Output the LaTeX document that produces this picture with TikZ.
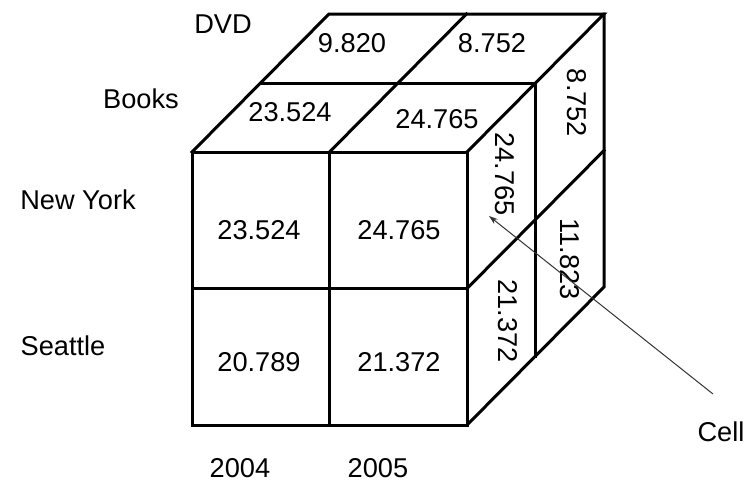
\documentclass[tikz,border=0pt]{standalone}
\usepackage{fontspec}
\setmainfont{Liberation Sans}
\usetikzlibrary{arrows.meta,calc}
\begin{document}
\begin{tikzpicture}[x=1pt,y=-1pt,
  edge/.style={line width=3pt,line cap=rect,line join=miter},
  lbl/.style={font=\fontsize{27.2}{31}\selectfont,inner sep=0pt},
  side/.style={lbl,rotate=-90},
  pointer/.style={draw=black!80,line width=1pt,-{Stealth[length=9pt,width=6pt]}}]
\useasboundingbox (0,0) rectangle (755,488);
% corners
\coordinate (FTL) at (192,152);
\coordinate (FTR) at (467,152);
\coordinate (FBL) at (192,425);
\coordinate (FBR) at (467,425);
\coordinate (d) at (137,-138);
\coordinate (h) at (68.5,-69);
% front face
\draw[edge] (FTL) rectangle (FBR);
\draw[edge] (329.5,152) -- (329.5,425);
\draw[edge] (192,288.5) -- (467,288.5);
% top face
\draw[edge] (FTL) -- ++(d) -- ($(FTR)+(d)$) -- (FTR);
\draw[edge] ($(FTL)+(h)$) -- ($(FTR)+(h)$);
\draw[edge] (329.5,152) -- ++(d);
% right face
\draw[edge] ($(FTR)+(d)$) -- ($(FBR)+(d)$) -- (FBR);
\draw[edge] ($(FTR)+(h)$) -- ($(FBR)+(h)$);
\draw[edge] (467,288.5) -- ++(d);
% top labels
\node[lbl] (t1) at (352,43) {9.820};
\node[lbl] (t2) at (492,43) {8.752};
\node[lbl] (t3) at (290,112) {23.524};
\node[lbl] (t4) at (437,119) {24.765};
% front labels
\node[lbl] (f1) at (259,230) {23.524};
\node[lbl] (f2) at (399,230) {24.765};
\node[lbl] (f3) at (259,362) {20.789};
\node[lbl] (f4) at (399,362) {21.372};
% side labels
\node[side] (s1) at (577,103) {8.752};
\node[side] (s2) at (505,174) {24.765};
\node[side] (s3) at (570,259) {11.823};
\node[side] (s4) at (508,321) {21.372};
% axis labels
\node[lbl] (dvd) at (223,24) {DVD};
\node[lbl] (books) at (141,99) {Books};
\node[lbl] (ny) at (78,200) {New York};
\node[lbl] (sea) at (63,346) {Seattle};
\node[lbl] (y4) at (240,468) {2004};
\node[lbl] (y5) at (378,468) {2005};
\node[lbl] (cell) at (721,432) {Cell};
% pointer
\coordinate (ps) at (713,394);
\coordinate (pe) at (489,216);
\draw[pointer] (ps) -- (pe);
\end{tikzpicture}
\end{document}
